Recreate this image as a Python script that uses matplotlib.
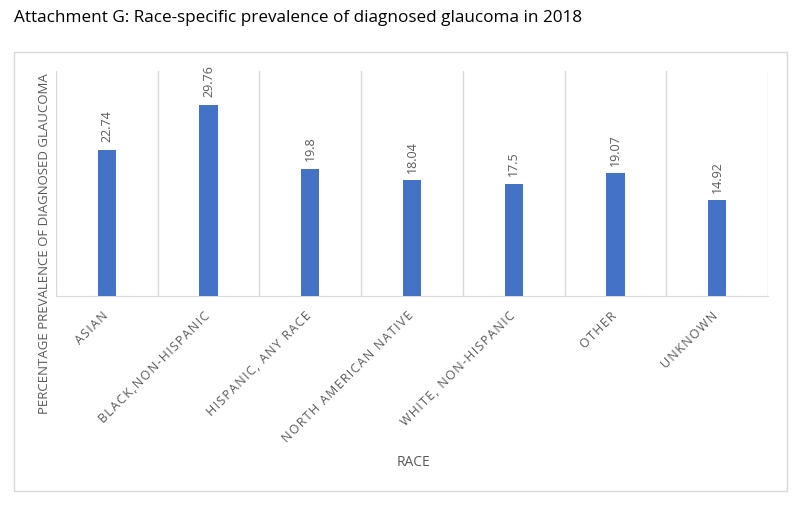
import matplotlib.pyplot as plt
from matplotlib.patches import Rectangle
from matplotlib.transforms import ScaledTranslation

categories = ['ASIAN', 'BLACK,NON-HISPANIC', 'HISPANIC, ANY RACE', 'NORTH AMERICAN NATIVE',
              'WHITE, NON-HISPANIC', 'OTHER', 'UNKNOWN']
prevalence = [22.74, 29.76, 19.8, 18.04, 17.5, 19.07, 14.92]
value_labels = ['22.74', '29.76', '19.8', '18.04', '17.5', '19.07', '14.92']

plt.rcParams['font.family'] = ['Open Sans', 'DejaVu Sans']
text_gray = '#595959'


def spaced(s):
    # Excel draws the category labels with extra letter spacing
    return '\u200a'.join(s)


fig = plt.figure(figsize=(8, 5.06), dpi=100)
fig.patches.append(Rectangle((14 / 800, 1 - 492 / 506), 773 / 800, 439 / 506,
                             transform=fig.transFigure, fill=False,
                             edgecolor='#d9d9d9', linewidth=1))
fig.text(14 / 800, 1 - 18 / 506, 'Attachment G: Race-specific prevalence of diagnosed glaucoma in 2018',
         fontsize=12.3, color='black', va='center', ha='left')

ax = fig.add_axes([56 / 800, 1 - 297 / 506, 712 / 800, 225 / 506])
x = range(len(categories))
ax.bar(x, prevalence, width=0.18, color='#4472C4', zorder=3)
for i, (v, lab) in enumerate(zip(prevalence, value_labels)):
    ax.annotate(lab, (i, v), xytext=(0, 6), textcoords='offset points',
                rotation=90, ha='center', va='bottom', fontsize=9, color=text_gray)

ax.set_xlim(-0.5, len(categories) - 0.5)
ax.set_ylim(0, 35)
for b in range(len(categories) + 1):
    ax.axvline(b - 0.5, color='#d9d9d9', linewidth=1, zorder=1)
for s in ['top', 'left', 'right']:
    ax.spines[s].set_visible(False)
ax.spines['bottom'].set_color('#d9d9d9')
ax.set_yticks([])
ax.set_xticks(list(x))
ax.set_xticklabels([spaced(c) for c in categories], rotation=45, ha='right', rotation_mode='anchor',
                   fontsize=9, color=text_gray)
ax.tick_params(axis='x', length=0, pad=9)
shift = ScaledTranslation(-4 / 72, 0, fig.dpi_scale_trans)
for lbl in ax.get_xticklabels():
    lbl.set_transform(lbl.get_transform() + shift)

fig.text(45 / 800, 1 - 244 / 506, 'PERCENTAGE PREVALENCE OF DIAGNOSED GLAUCOMA',
         rotation=90, ha='center', va='center', fontsize=9.5, color=text_gray)
fig.text(413 / 800, 1 - 463 / 506, 'RACE', ha='center', va='center', fontsize=10, color=text_gray)

fig.savefig('out.png', dpi=100)
